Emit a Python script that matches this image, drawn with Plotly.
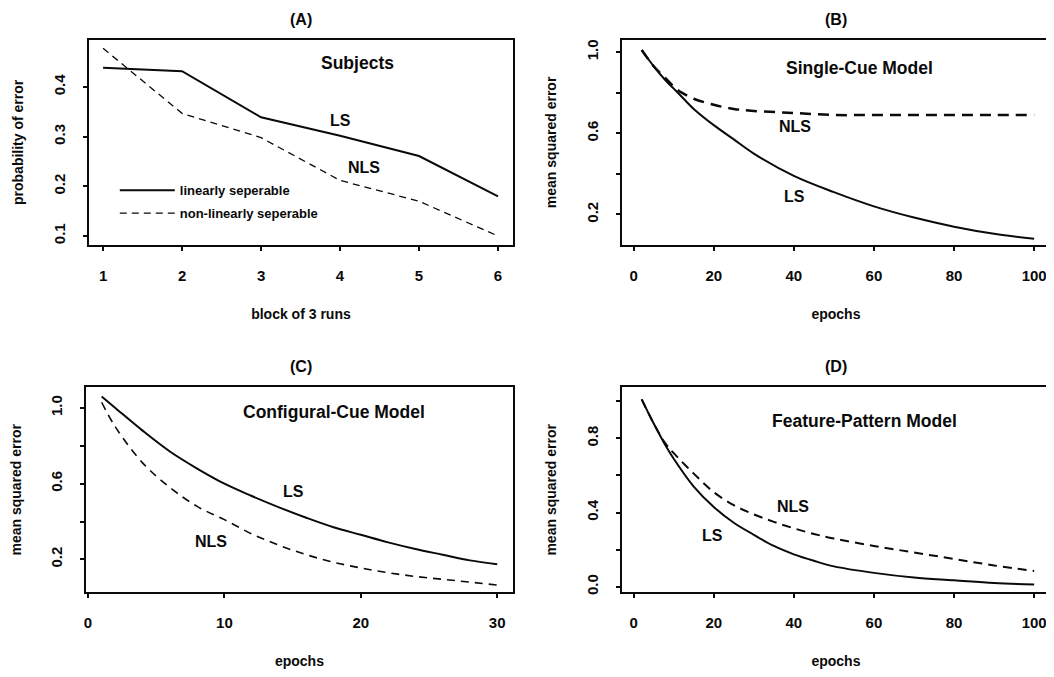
import plotly.graph_objects as go

# ---------------- data ----------------
# Panel A: Subjects
blocks = [1, 2, 3, 4, 5, 6]
subj_ls = [0.439, 0.432, 0.339, 0.302, 0.261, 0.180]
subj_nls = [0.478, 0.347, 0.298, 0.212, 0.170, 0.100]

# Panel B: Single-Cue Model
b_epochs = [2, 5, 8, 10, 12, 15, 20, 25, 30, 40, 50, 60, 70, 80, 90, 100]
b_ls = [1.01, 0.93, 0.86, 0.82, 0.78, 0.72, 0.64, 0.57, 0.50, 0.39, 0.31, 0.24, 0.185, 0.14, 0.105, 0.08]
b_nls = [1.01, 0.93, 0.87, 0.83, 0.80, 0.77, 0.74, 0.72, 0.71, 0.70, 0.69, 0.69, 0.69, 0.69, 0.69, 0.69]

# Panel C: Configural-Cue Model
c_epochs = [1, 2, 4, 6, 8, 10, 12, 14, 16, 18, 20, 22, 24, 26, 28, 30]
c_ls = [1.06, 1.00, 0.88, 0.77, 0.68, 0.60, 0.535, 0.475, 0.42, 0.37, 0.33, 0.29, 0.255, 0.225, 0.195, 0.175]
c_nls = [1.03, 0.90, 0.71, 0.58, 0.48, 0.41, 0.335, 0.275, 0.225, 0.185, 0.155, 0.13, 0.11, 0.095, 0.08, 0.065]

# Panel D: Feature-Pattern Model
d_epochs = [2, 5, 8, 10, 15, 20, 25, 30, 35, 40, 45, 50, 60, 70, 80, 90, 100]
d_ls = [1.01, 0.88, 0.76, 0.69, 0.54, 0.43, 0.345, 0.28, 0.22, 0.175, 0.14, 0.11, 0.075, 0.05, 0.035, 0.02, 0.012]
d_nls = [1.01, 0.88, 0.77, 0.72, 0.61, 0.51, 0.44, 0.39, 0.35, 0.315, 0.285, 0.26, 0.22, 0.185, 0.15, 0.115, 0.085]

# page body has an 8px margin, so the figure is drawn 8px smaller and positions are shifted
OFF = 8
W, H = 1054 - OFF, 677 - OFF
FONT = "Liberation Sans, Arial, Helvetica, sans-serif"
INK = "#0a0a0a"
WT = "bold"

fig = go.Figure()

# Panel A
fig.add_trace(go.Scatter(x=blocks, y=subj_ls, mode="lines", name="linearly seperable", legendgroup="ls",
                         line=dict(color=INK, width=2), xaxis="x", yaxis="y", showlegend=True))
fig.add_trace(go.Scatter(x=blocks, y=subj_nls, mode="lines", name="non-linearly seperable", legendgroup="nls",
                         line=dict(color=INK, width=1.3, dash="7px,5px"), xaxis="x", yaxis="y", showlegend=True))
# Panel B
fig.add_trace(go.Scatter(x=b_epochs, y=b_ls, mode="lines", line=dict(color=INK, width=2, shape="spline"),
                         xaxis="x2", yaxis="y2", showlegend=False))
fig.add_trace(go.Scatter(x=b_epochs, y=b_nls, mode="lines", line=dict(color=INK, width=2.5, shape="spline", dash="11px,7px"),
                         xaxis="x2", yaxis="y2", showlegend=False))
# Panel C
fig.add_trace(go.Scatter(x=c_epochs, y=c_ls, mode="lines", line=dict(color=INK, width=2, shape="spline"),
                         xaxis="x3", yaxis="y3", showlegend=False))
fig.add_trace(go.Scatter(x=c_epochs, y=c_nls, mode="lines", line=dict(color=INK, width=1.6, shape="spline", dash="8px,6px"),
                         xaxis="x3", yaxis="y3", showlegend=False))
# Panel D
fig.add_trace(go.Scatter(x=d_epochs, y=d_ls, mode="lines", line=dict(color=INK, width=2, shape="spline"),
                         xaxis="x4", yaxis="y4", showlegend=False))
fig.add_trace(go.Scatter(x=d_epochs, y=d_nls, mode="lines", line=dict(color=INK, width=2, shape="spline", dash="9px,6px"),
                         xaxis="x4", yaxis="y4", showlegend=False))

def px_x(p):
    return (p - OFF) / W

def px_y(p):
    return 1 - (p - OFF) / H

top_dom = [px_y(246), px_y(40)]
bot_dom = [px_y(595), px_y(389)]
left_dom_a = [px_x(87), px_x(512)]
left_dom_c = [px_x(84), px_x(512)]
right_dom = [px_x(621), px_x(1050)]

common_axis = dict(showline=True, mirror=True, linewidth=2, linecolor=INK, ticks="outside",
                   ticklen=4, tickwidth=1.5, tickcolor=INK, showgrid=False, zeroline=False,
                   tickfont=dict(family=FONT, size=15, color=INK, weight=WT))

def xax(dom, rng, vals, title, anchor):
    d = dict(common_axis)
    d.update(domain=dom, range=rng, tickvals=vals, ticktext=[str(v) for v in vals], anchor=anchor,
             ticklabelstandoff=12,
             title=dict(text=title, font=dict(family=FONT, size=14, color=INK, weight=WT), standoff=26))
    return d

def yax(dom, rng, vals, labels, title, anchor):
    d = dict(common_axis)
    d.update(domain=dom, range=rng, tickvals=vals, ticktext=labels, tickangle=-90, anchor=anchor,
             ticklabelstandoff=12,
             title=dict(text=title, font=dict(family=FONT, size=14, color=INK, weight=WT), standoff=24))
    return d

fig.update_layout(
    width=W, height=H, margin=dict(l=0, r=0, t=0, b=0),
    paper_bgcolor="white", plot_bgcolor="white",
    font=dict(family=FONT, color=INK),
    xaxis=xax(left_dom_a, [0.82, 6.19], [1, 2, 3, 4, 5, 6], "block of 3 runs", "y"),
    yaxis=yax(top_dom, [0.082, 0.495], [0.1, 0.2, 0.3, 0.4], ["0.1", "0.2", "0.3", "0.4"], "probability of error", "x"),
    xaxis2=xax(right_dom, [-2.96, 103.96], [0, 20, 40, 60, 80, 100], "epochs", "y2"),
    yaxis2=yax(top_dom, [0.05, 1.06], [0.2, 0.4, 0.6, 0.8, 1.0], ["0.2", "", "0.6", "", "1.0"], "mean squared error", "x2"),
    xaxis3=xax(left_dom_c, [-0.16, 31.16], [0, 10, 20, 30], "epochs", "y3"),
    yaxis3=yax(bot_dom, [0.026, 1.109], [0.2, 0.4, 0.6, 0.8, 1.0], ["0.2", "", "0.6", "", "1.0"], "mean squared error", "x3"),
    xaxis4=xax(right_dom, [-2.96, 103.96], [0, 20, 40, 60, 80, 100], "epochs", "y4"),
    yaxis4=yax(bot_dom, [-0.03, 1.075], [0.0, 0.2, 0.4, 0.6, 0.8, 1.0], ["0.0", "", "0.4", "", "0.8", ""], "mean squared error", "x4"),
    legend=dict(x=px_x(113), y=px_y(176), xanchor="left", yanchor="top", bgcolor="rgba(0,0,0,0)",
                font=dict(family=FONT, size=13, color=INK, weight=WT), tracegroupgap=3, itemwidth=55),
)

ann = []
def label(text, x, y, ref, size=16):
    ann.append(dict(text=text, x=x, y=y, xref="x" + ref, yref="y" + ref, showarrow=False,
                    xanchor="center", yanchor="middle",
                    font=dict(family=FONT, size=size, color=INK, weight=WT)))

def ptitle(text, xp, yp):
    ann.append(dict(text=text, x=px_x(xp), y=px_y(yp), xref="paper", yref="paper", showarrow=False,
                    xanchor="center", yanchor="middle",
                    font=dict(family=FONT, size=16, color=INK, weight=WT)))

TS = 17.5
label("Subjects", 4.22, 0.448, "", TS)
label("LS", 4.0, 0.333, "")
label("NLS", 4.3, 0.237, "")

label("Single-Cue Model", 56.4, 0.92, "2", TS)
label("NLS", 40.2, 0.631, "2")
label("LS", 40.2, 0.288, "2")

label("Configural-Cue Model", 18.0, 0.979, "3", TS)
label("LS", 15.1, 0.56, "3")
label("NLS", 9.0, 0.295, "3")

label("Feature-Pattern Model", 57.6, 0.892, "4", TS)
label("NLS", 39.7, 0.433, "4")
label("LS", 19.7, 0.277, "4")

ptitle("(A)", 300, 20)
ptitle("(B)", 836, 20)
ptitle("(C)", 300, 368)
ptitle("(D)", 836, 368)

fig.update_layout(annotations=ann)
fig.write_html("out.html")
